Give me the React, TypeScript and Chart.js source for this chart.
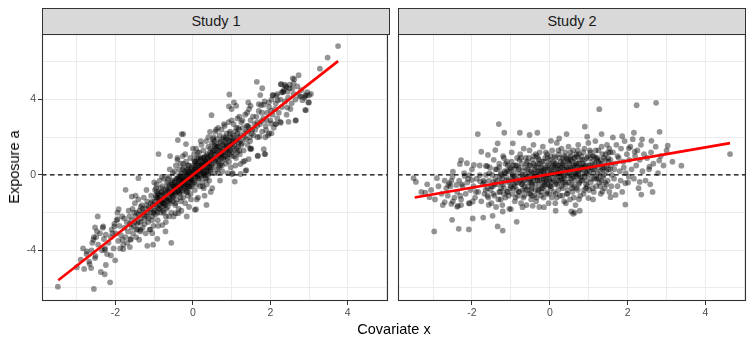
import React, { useEffect, useRef } from "react";
import { Chart, registerables } from "chart.js";
Chart.register(...registerables);

const panelTitles = ["Study 1", "Study 2"];
const xAxisTitle = "Covariate x";
const yAxisTitle = "Exposure a";
const xTicks = [-3, -2, -1, 0, 1, 2, 3, 4, 5];
const xLabeled = [-2, 0, 2, 4];
const yTicks = [-6, -4, -2, 0, 2, 4, 6];
const yLabeled = [-4, 0, 4];
const xRange = [-3.9, 5.04];
const yRange = [-6.69, 7.48];
const refLineY = 0;

// fitted regression line end points (data units)
const study1Fit = [[-3.48, -5.59], [3.75, 6.04]];
const study2Fit = [[-3.47, -1.2], [4.63, 1.69]];

const study1Points: number[][] = [
  // lower-left tail
  [-3.49,-5.93],[-2.56,-6.05],[-2.14,-5.7],[-2.81,-4.99],[-2.63,-4.94],[-2.67,-4.73],[-2.38,-5.15],[-2.28,-5.27],[-2.25,-4.78],[-2.84,-3.9],
  [-2.74,-4.06],[-2.53,-4.41],[-2.28,-3.97],[-2.12,-4.27],[-2.01,-4.53],[-2.57,-3.44],[-2.5,-3.3],[-2.53,-2.79],[-2.46,-2.2],[-2.32,-2.73],
  [-2.25,-3.17],[-2.08,-3.09],[-2.03,-2.73],[-1.95,-2.35],[-1.92,-1.82],[-1.82,-3.44],[-1.8,-3.93],[-1.63,-3.83],[-1.61,-3.44],[-1.39,-3.44],
  [-1.74,-0.79],[-1.58,-1.15],[-1.41,-0.17],[-1.18,-3.76],[-1.03,-3.7],[-0.92,-3.39],[-0.56,-3.6],[-0.71,-3.0],[-1.05,-3.09],[-1.35,-2.91],
  [-0.79,-2.66],[-0.62,-2.2],[-0.45,-2.03],[0.08,-1.82],[0.35,-1.59],[0.05,-1.85],[-0.38,-2.03],[-0.16,-2.2],
  [-2.3,-3.4],[-2.35,-4.0],[-2.4,-3.1],[-2.45,-3.7],[-2.52,-4.3],[-2.6,-3.6],[-2.68,-4.6],[-2.75,-4.2],[-2.9,-4.5],[-3.0,-4.9],
  [-2.33,-2.8],[-2.48,-3.0],[-2.62,-4.0],[-2.27,-3.9],[-2.56,-3.3],
  // upper-right tail
  [3.75,6.84],[3.48,6.23],[3.28,5.64],[2.73,5.29],[2.62,5.08],[2.58,5.13],[1.65,4.94],[0.94,4.27],[1.79,4.6],[1.74,4.24],
  [2.27,4.81],[2.4,4.71],[2.57,4.59],[2.32,4.41],[2.06,4.23],[2.19,3.97],[3.0,4.23],[2.92,4.23],[2.83,3.97],[3.0,3.85],
  [2.92,3.44],[2.44,3.58],[2.66,2.91],[2.47,2.82],[2.27,2.77],[2.15,2.7],[2.02,2.73],[1.89,2.38],[1.97,2.2],[1.72,2.03],
  [1.48,1.41],[1.67,1.0],[1.87,1.11],[1.38,0.26],[1.03,0.09],[1.08,-0.35],[0.48,3.17],[0.44,2.29],[-0.25,2.17],[-0.39,1.85],
  [-0.89,1.11],[-0.59,1.0],[-0.29,2.17],[-0.18,1.64],
  [1.06,3.85],[1.12,3.67],[0.93,3.64],[1.0,3.5],[1.43,3.85],[1.49,3.67],[1.7,3.76],[1.83,3.73],[1.96,3.85],[2.07,4.24],
  [2.18,4.29],[2.29,4.38],[2.45,4.42],[2.35,4.52],[2.28,4.82],[2.37,4.79],[2.5,4.79],[2.6,4.86],[2.41,4.65],[2.78,4.17],
  [2.9,4.2],[2.98,3.85],[2.9,3.44],[2.65,2.88],[2.26,2.82],[2.13,2.7],[2.03,2.21],[1.77,2.85],[1.66,2.61],[1.44,2.53],
  [1.87,2.0],[1.83,1.37],[1.85,1.11],[1.68,1.02],[1.49,1.37],[1.44,0.84],[1.34,0.75],[1.23,0.58],[1.36,0.22],[1.23,0.05],[1.01,0.05],
  [2.22,3.3],[2.26,4.0],[2.3,3.6],[2.34,4.4],[2.38,3.9],[2.42,3.2],[2.46,4.1],[2.5,4.6],[2.55,3.8],[2.6,4.3],
  [2.65,4.0],[2.7,4.7],[2.75,4.2],[2.8,4.5],[2.88,4.1],[2.95,4.4],[3.05,4.3],[2.52,3.5],
  // core
  [-2.18,-3.6],[-2.1,-2.9],[-2.05,-3.9],[-2.0,-3.1],[-1.97,-2.4],[-1.93,-3.5],[-1.9,-2.7],[-1.86,-3.2],[-1.83,-2.2],[-1.8,-3.7],
  [-1.77,-2.8],[-1.74,-3.3],[-1.71,-2.5],[-1.68,-3.0],[-1.66,-1.9],[-1.63,-2.6],[-1.61,-3.4],[-2.22,-4.2],[-2.12,-3.3],[-1.95,-2.0],
  [-1.88,-3.9],[-1.78,-2.3],[-1.7,-3.6],[-1.64,-2.2],[-2.03,-2.6],
  [-1.58,-2.4],[-1.56,-1.8],[-1.55,-3.1],[-1.53,-2.7],[-1.5,-1.5],[-1.49,-2.2],[-1.47,-3.3],[-1.45,-2.0],[-1.43,-2.9],[-1.41,-1.3],
  [-1.4,-2.5],[-1.38,-1.9],[-1.36,-3.0],[-1.34,-2.3],[-1.32,-1.6],[-1.3,-2.8],[-1.29,-2.0],[-1.27,-1.2],[-1.25,-2.6],[-1.23,-1.8],
  [-1.22,-3.1],[-1.2,-2.2],[-1.18,-1.4],[-1.16,-2.5],[-1.14,-1.7],[-1.12,-2.9],[-1.1,-2.0],[-1.08,-1.1],[-1.06,-2.4],[-1.04,-1.6],
  [-1.02,-2.7],[-1.01,-1.9],[-1.52,-2.0],[-1.44,-2.6],[-1.35,-1.7],[-1.26,-2.3],[-1.17,-2.0],[-1.09,-1.5],[-1.05,-2.2],[-1.48,-1.1],
  [-0.99,-1.4],[-0.98,-0.8],[-0.97,-2.1],[-0.95,-1.6],[-0.94,-0.5],[-0.92,-1.2],[-0.91,-2.4],[-0.89,-1.0],[-0.88,-1.8],[-0.86,-0.3],
  [-0.85,-1.4],[-0.83,-2.0],[-0.82,-0.9],[-0.8,-1.5],[-0.79,-0.6],[-0.77,-1.9],[-0.76,-1.1],[-0.74,-0.2],[-0.73,-1.6],[-0.71,-0.8],
  [-0.7,-2.2],[-0.68,-1.3],[-0.67,-0.4],[-0.65,-1.7],[-0.64,-0.9],[-0.62,-1.2],[-0.61,-0.1],[-0.59,-1.5],[-0.58,-0.7],[-0.56,-2.0],
  [-0.55,-1.0],[-0.53,-0.3],[-0.52,-1.4],[-0.51,-0.6],[-0.96,-1.1],[-0.9,-1.3],[-0.84,-0.7],[-0.78,-1.3],[-0.72,-1.0],[-0.66,-1.4],
  [-0.6,-0.9],[-0.54,-1.1],[-0.87,-1.2],[-0.75,-1.5],[-0.63,-0.5],[-0.57,-1.3],[-0.93,-0.9],[-0.81,-1.7],[-0.69,-1.8],[-0.5,-0.8],
  [-0.49,-1.1],[-0.48,-0.4],[-0.47,0.2],[-0.46,-1.6],[-0.45,-0.7],[-0.44,0.5],[-0.43,-0.2],[-0.42,-1.3],[-0.41,-0.5],[-0.4,0.8],
  [-0.39,-0.9],[-0.38,-0.1],[-0.37,-1.8],[-0.36,-0.6],[-0.35,0.3],[-0.34,-1.0],[-0.33,-0.3],[-0.32,0.6],[-0.31,-1.4],[-0.3,-0.5],
  [-0.29,0.1],[-0.28,-0.8],[-0.27,-0.2],[-0.26,1.0],[-0.25,-1.2],[-0.24,-0.4],[-0.23,0.4],[-0.22,-0.7],[-0.21,-0.1],[-0.2,-1.5],
  [-0.19,-0.3],[-0.18,0.7],[-0.17,-0.9],[-0.16,0.0],[-0.15,-0.5],[-0.14,0.3],[-0.13,-1.1],[-0.12,-0.2],[-0.11,0.5],[-0.1,-0.7],
  [-0.09,0.1],[-0.08,-0.4],[-0.07,0.9],[-0.06,-1.0],[-0.05,-0.1],[-0.04,0.4],[-0.03,-0.6],[-0.02,0.2],[-0.01,-0.3],[-0.44,-0.9],
  [-0.36,-0.2],[-0.28,-0.4],[-0.2,0.2],[-0.12,-0.6],[-0.04,-0.2],
  [0.01,0.5],[0.02,-0.3],[0.03,1.1],[0.04,0.1],[0.05,-0.8],[0.06,0.7],[0.07,-0.1],[0.08,1.4],[0.09,0.3],[0.1,-0.5],
  [0.11,0.9],[0.12,0.0],[0.13,-1.2],[0.14,0.6],[0.15,-0.2],[0.16,1.2],[0.17,0.2],[0.18,-0.6],[0.19,0.8],[0.2,0.4],
  [0.21,-0.1],[0.22,1.6],[0.23,0.5],[0.24,-0.4],[0.25,0.9],[0.26,0.1],[0.27,1.3],[0.28,-0.7],[0.29,0.6],[0.3,0.2],
  [0.31,1.0],[0.32,-0.2],[0.33,0.7],[0.34,1.8],[0.35,0.3],[0.36,-0.5],[0.37,1.1],[0.38,0.4],[0.39,0.0],[0.4,1.5],
  [0.41,0.8],[0.42,-0.3],[0.43,0.6],[0.44,1.2],[0.45,0.2],[0.46,-0.9],[0.47,0.9],[0.48,0.5],[0.49,1.7],[0.06,0.3],
  [0.14,0.2],[0.22,0.5],[0.3,0.7],[0.38,0.9],[0.46,0.6],
  [0.51,0.4],[0.52,1.3],[0.53,2.0],[0.54,0.8],[0.55,1.6],[0.56,0.1],[0.57,1.1],[0.58,2.3],[0.59,0.6],[0.6,1.4],
  [0.61,0.9],[0.62,1.9],[0.63,0.3],[0.64,1.2],[0.65,2.5],[0.66,0.7],[0.67,1.5],[0.68,1.0],[0.69,2.1],[0.7,0.5],
  [0.71,1.3],[0.72,1.8],[0.73,0.9],[0.74,2.4],[0.75,1.1],[0.76,0.2],[0.77,1.6],[0.78,1.2],[0.79,2.0],[0.8,0.8],
  [0.81,1.4],[0.82,2.6],[0.83,1.0],[0.84,1.7],[0.85,0.6],[0.86,1.3],[0.87,2.2],[0.88,1.5],[0.89,0.9],[0.9,1.9],
  [0.91,1.2],[0.92,2.8],[0.93,0.7],[0.94,1.6],[0.95,1.1],[0.96,2.3],[0.97,1.4],[0.98,0.4],[0.99,1.8],[0.72,1.0],
  [1.01,1.2],[1.03,2.0],[1.05,2.7],[1.07,1.6],[1.09,2.3],[1.11,0.9],[1.13,1.9],[1.15,3.0],[1.17,1.5],[1.19,2.4],
  [1.21,1.1],[1.23,2.1],[1.25,2.8],[1.27,1.7],[1.29,2.5],[1.31,1.3],[1.33,2.2],[1.35,3.2],[1.37,1.9],[1.39,2.6],
  [1.41,1.6],[1.43,2.3],[1.45,3.5],[1.47,2.0],[1.49,2.9],[1.51,1.4],[1.53,2.4],[1.55,3.1],[1.57,2.1],[1.59,2.7],
  [1.02,1.7],[1.12,2.5],[1.22,1.8],[1.32,2.0],[1.42,2.6],[1.52,2.2],[1.18,2.0],[1.28,2.9],[1.38,2.3],[1.48,1.8],
  [1.61,2.4],[1.64,3.1],[1.67,2.0],[1.7,3.4],[1.73,2.7],[1.76,3.7],[1.79,2.3],[1.82,3.0],[1.85,3.9],[1.88,2.6],
  [1.91,3.3],[1.94,2.1],[1.97,3.6],[2.0,2.9],[2.03,4.0],[2.06,3.2],[2.09,2.5],[2.12,3.5],[2.15,4.2],[2.18,3.0],
  [1.66,2.8],[1.78,3.3],[1.9,2.9],[2.02,3.4],[2.14,3.8],
  // dense centre
  [-0.98,-1.9],[-0.95,-1.2],[-0.92,-1.7],[-0.9,-1.0],[-0.87,-1.6],[-0.85,-1.1],[-0.82,-1.4],[-0.8,-0.9],[-0.77,-1.5],[-0.75,-1.0],
  [-0.72,-1.3],[-0.7,-0.7],[-0.67,-1.2],[-0.65,-0.8],[-0.62,-1.4],[-0.6,-0.6],[-0.57,-1.0],[-0.55,-0.5],[-0.52,-1.2],[-0.5,-0.6],
  [-0.48,-0.9],[-0.46,-0.3],[-0.44,-1.0],[-0.42,-0.6],[-0.4,-0.2],[-0.38,-0.8],[-0.36,-0.4],[-0.34,0.0],[-0.32,-0.7],[-0.3,-0.3],
  [-0.28,-0.9],[-0.26,-0.1],[-0.24,-0.6],[-0.22,0.1],[-0.2,-0.5],[-0.18,-0.2],[-0.16,-0.8],[-0.14,0.0],[-0.12,-0.4],[-0.1,0.2],
  [-0.08,-0.6],[-0.06,-0.2],[-0.04,0.1],[-0.02,-0.5],[0.0,0.0],[-0.47,-0.6],[-0.39,-0.5],[-0.31,-0.1],[-0.23,-0.3],[-0.15,0.2],
  [-0.07,-0.3],[-0.33,-0.6],[-0.19,-0.6],[-0.05,0.3],[-0.27,0.3],
  [0.02,0.2],[0.04,-0.4],[0.06,0.5],[0.08,0.0],[0.1,0.6],[0.12,0.3],[0.14,-0.2],[0.16,0.7],[0.18,0.2],[0.2,0.9],
  [0.22,0.0],[0.24,0.6],[0.26,0.3],[0.28,0.9],[0.3,0.1],[0.32,0.6],[0.34,0.4],[0.36,1.0],[0.38,0.2],[0.4,0.7],
  [0.42,0.4],[0.44,1.0],[0.46,0.3],[0.48,0.8],[0.5,1.2],[0.07,0.4],[0.17,0.5],[0.27,0.0],[0.37,0.6],[0.47,1.1],
  [0.11,-0.1],[0.21,0.3],[0.31,0.8],[0.41,0.1],[0.03,0.8],
  [0.52,0.9],[0.55,1.3],[0.58,0.7],[0.6,1.1],[0.63,1.5],[0.65,0.8],[0.68,1.3],[0.7,1.7],[0.73,1.1],[0.75,1.4],
  [0.78,0.9],[0.8,1.6],[0.83,1.2],[0.85,1.9],[0.88,1.0],[0.9,1.4],[0.93,1.8],[0.95,1.3],[0.98,1.6],[1.0,1.0],
  [1.03,1.5],[1.05,2.1],[1.08,1.3],[1.1,1.8],[1.13,1.4],[1.15,2.2],[1.18,1.7],[1.2,1.3],[0.57,1.5],[0.67,0.4],
  [0.77,1.9],[0.87,1.6],[0.97,2.0],[1.07,1.0],[1.17,2.5],
  [-1.58,-2.8],[-1.5,-2.5],[-1.45,-2.9],[-1.4,-2.1],[-1.35,-2.5],[-1.3,-1.8],[-1.25,-2.1],[-1.2,-1.6],[-1.15,-2.3],[-1.1,-1.8],
  [-1.05,-1.4],[-1.02,-2.0],
  [-1.2,-0.8],[-1.1,-2.9],[-1.0,-0.4],[-0.9,-2.7],[-0.8,-0.1],[-0.7,-2.5],[-0.6,0.3],[-0.5,-2.2],[-0.4,0.9],[-0.3,-1.9],
  [-0.2,1.1],[-0.1,-1.7],[0.0,1.4],[0.1,-1.3],[0.2,1.8],[0.3,-1.1],[0.4,2.0],[0.5,-0.7],[0.6,2.4],[0.7,-0.3],
  [0.8,2.7],[0.9,0.1],[1.0,2.9],[1.1,0.5],[1.2,3.1],[1.3,0.7],[1.4,3.3],[-0.85,-1.8],[-0.65,-0.2],[-0.45,-1.5],
  [-0.25,0.6],[-0.05,-1.3],[0.15,0.9],[0.35,-0.2],[0.55,1.8],[0.75,0.5],[0.95,2.2],[1.15,1.2],[-0.15,-0.9],[0.05,0.7],
  [0.25,-0.6],[0.45,1.4],[0.65,0.1],[0.85,2.0],[-0.35,-0.9],[-0.55,-0.4],[-0.75,-2.0],[-0.95,-0.7],[0.12,1.2],[0.32,0.0],
  [0.52,1.9],[0.72,0.6],[-0.12,0.5],[-0.32,-1.2],[-0.52,0.1],[-0.72,-1.6],[-0.92,-2.0],[1.25,1.6],[1.05,1.8],[0.62,1.6]
];

const study2Points: number[][] = [
  // outer points
  [4.63,1.11],[3.38,0.49],[3.03,1.55],[2.82,2.29],[2.73,3.83],[2.23,3.7],[1.27,3.49],[0.9,2.56],[2.81,0.76],[2.56,0.44],
  [2.64,-0.9],[2.35,-1.04],[1.94,-1.57],[2.31,-0.37],[0.64,-1.99],[0.55,-1.94],[0.15,-1.9],[-0.85,-2.49],[-1.21,-2.95],[-1.34,-2.73],
  [-1.47,-2.17],[-1.71,-2.26],[-1.98,-2.31],[-2.08,-2.89],[-2.34,-2.86],[-2.51,-2.38],[-2.97,-3.0],[-3.2,-0.94],[-3.09,-1.18],[-3.5,-0.17],
  [-3.44,-0.37],[-2.9,-0.17],[-2.7,-1.44],[-2.49,-1.41],[-2.36,-1.64],[-2.28,0.79],[-2.13,0.62],[-1.95,0.53],[-2.49,0.17],[-1.85,2.17],
  [-1.76,1.23],[-1.59,1.06],[-1.64,0.48],[-1.31,2.7],[-1.34,1.68],[-1.4,1.32],[-1.17,2.24],[-0.95,1.68],[-0.77,2.24],[-0.52,2.12],
  [-0.32,2.24],[0.03,1.81],[0.24,1.94],[0.43,2.17],[0.96,2.03],[1.33,2.17],[1.62,1.99],[1.86,2.06],[2.16,2.24],[2.37,1.89],
  [2.61,1.81],[2.03,1.41],[2.18,1.23],[2.03,-0.09],[1.94,-0.44],[1.69,-1.06],[1.56,-1.18],[1.35,-0.88],[0.99,-1.23],[0.75,-1.29],
  [0.41,-1.5],[-0.15,-1.71],[-0.44,-1.64],[-0.7,-1.71],[-1.0,-1.81],[-1.21,-1.94],[-1.57,-1.59],[-1.98,-1.41],[-2.66,-0.71],[-2.58,-0.44],
  [-2.4,-0.53],[-2.19,-0.05],[0.6,-2.06],[0.77,-1.9],[-2.53,-0.31],[-2.61,-0.54],[-2.53,-1.54],[-2.38,-1.69],[-2.28,-1.6],[-2.06,-1.51],
  [-2.0,-0.27],[-2.06,-0.01],[-1.8,-0.01],[-1.79,-0.34],[-2.31,0.58],[-1.61,0.47],
  [-2.45,-1.2],[-2.55,-0.6],[-2.62,-1.1],[-2.7,-0.3],[-2.78,-1.0],[-2.86,-0.6],[-2.95,-1.3],[-3.05,-0.8],[-3.15,-0.5],[-2.5,-0.1],
  [-2.75,-1.6],[-3.3,-0.9],
  [2.55,0.3],[2.6,1.2],[2.66,0.6],[2.72,1.5],[2.78,0.1],[2.85,1.0],[2.92,0.5],[3.0,1.3],[3.15,0.7],[2.58,-0.5],
  // core
  [-2.38,-0.9],[-2.33,-0.3],[-2.28,-1.3],[-2.24,-0.6],[-2.2,0.1],[-2.16,-1.0],[-2.12,-0.4],[-2.08,-1.5],[-2.04,-0.8],[-2.0,0.3],
  [-1.96,-0.6],[-1.92,-1.2],[-1.88,-0.2],[-1.84,-0.9],[-1.8,0.5],[-1.76,-1.4],[-1.72,-0.5],[-1.68,-1.0],[-1.64,0.0],[-1.6,-0.7],
  [-2.3,-1.1],[-2.1,-0.2],[-1.9,-0.9],[-1.7,-0.3],[-2.26,-0.5],
  [-1.58,-1.2],[-1.56,-0.3],[-1.54,0.4],[-1.52,-0.8],[-1.5,-1.5],[-1.48,0.0],[-1.46,-0.6],[-1.44,0.8],[-1.42,-1.1],[-1.4,-0.2],
  [-1.38,-1.7],[-1.36,0.3],[-1.34,-0.5],[-1.32,-1.3],[-1.3,0.6],[-1.28,-0.9],[-1.26,0.1],[-1.24,-0.4],[-1.22,-1.6],[-1.2,1.0],
  [-1.18,-0.7],[-1.16,0.2],[-1.14,-1.2],[-1.12,-0.1],[-1.1,0.7],[-1.08,-0.9],[-1.06,-0.3],[-1.04,-1.8],[-1.02,0.4],[-1.0,-0.6],
  [-0.98,1.2],[-0.96,-1.0],[-0.94,0.0],[-0.92,-0.5],[-0.9,-1.4],[-0.88,0.5],[-0.86,-0.2],[-0.84,0.9],[-0.82,-1.1],[-0.8,-0.4],
  [-1.45,-0.4],[-1.25,-0.7],[-1.05,0.2],[-0.95,-0.3],[-0.85,-0.8],
  [-0.79,0.3],[-0.78,-0.9],[-0.76,1.1],[-0.75,-0.2],[-0.74,-1.5],[-0.72,0.6],[-0.71,-0.5],[-0.7,0.0],[-0.68,-1.2],[-0.67,1.4],
  [-0.66,-0.3],[-0.64,0.4],[-0.63,-0.8],[-0.62,0.9],[-0.6,-1.6],[-0.59,-0.1],[-0.58,0.7],[-0.56,-0.6],[-0.55,0.2],[-0.54,-1.0],
  [-0.52,1.3],[-0.51,-0.4],[-0.5,0.5],[-0.48,-1.3],[-0.47,0.1],[-0.46,-0.7],[-0.44,0.8],[-0.43,-0.2],[-0.42,1.6],[-0.4,-1.1],
  [-0.39,0.3],[-0.38,-0.5],[-0.36,0.0],[-0.35,-1.4],[-0.34,1.0],[-0.32,-0.3],[-0.31,0.6],[-0.3,-0.8],[-0.28,0.2],[-0.27,-1.7],
  [-0.26,1.2],[-0.24,-0.1],[-0.23,0.4],[-0.22,-0.9],[-0.2,0.7],[-0.19,-0.4],[-0.18,1.5],[-0.16,-1.2],[-0.15,0.1],[-0.14,-0.6],
  [-0.12,0.9],[-0.11,-0.2],[-0.1,0.4],[-0.08,-1.0],[-0.07,1.1],[-0.06,-0.5],[-0.04,0.0],[-0.03,-1.5],[-0.02,0.6],[-0.01,-0.3],
  [0.01,0.8],[0.02,-0.6],[0.04,0.2],[0.05,-1.2],[0.06,1.3],[0.08,-0.2],[0.09,0.5],[0.1,-0.9],[0.12,1.0],[0.13,0.0],
  [0.14,-1.5],[0.16,0.6],[0.17,-0.4],[0.18,1.7],[0.2,-0.1],[0.21,0.3],[0.22,-0.8],[0.24,1.1],[0.25,0.1],[0.26,-1.1],
  [0.28,0.7],[0.29,-0.3],[0.3,1.4],[0.32,0.4],[0.33,-0.7],[0.34,0.9],[0.36,-0.1],[0.37,-1.4],[0.38,0.5],[0.4,1.2],
  [0.41,-0.5],[0.42,0.2],[0.44,-1.0],[0.45,0.8],[0.46,0.0],[0.48,1.5],[0.49,-0.4],[0.5,0.6],[0.52,-1.3],[0.53,0.3],
  [0.54,1.0],[0.56,-0.2],[0.57,0.7],[0.58,-0.9],[0.6,1.3],[0.61,0.1],[0.62,-0.6],[0.64,0.9],[0.65,0.4],[0.66,-1.6],
  [0.68,1.1],[0.69,-0.1],[0.7,0.5],[0.72,-0.8],[0.73,1.6],[0.74,0.2],[0.76,-0.4],[0.77,0.8],[0.78,-1.1],[0.79,0.4],
  [0.81,1.0],[0.83,-0.3],[0.85,0.6],[0.87,-1.0],[0.89,1.4],[0.91,0.2],[0.93,-0.5],[0.95,0.9],[0.97,0.0],[0.99,1.7],
  [1.01,-0.8],[1.03,0.5],[1.05,1.2],[1.07,-0.2],[1.09,0.7],[1.11,-1.3],[1.13,1.0],[1.15,0.3],[1.17,1.8],[1.19,-0.6],
  [1.21,0.8],[1.23,0.1],[1.25,1.3],[1.27,-0.4],[1.29,0.6],[1.31,-1.0],[1.33,1.5],[1.35,0.4],[1.37,-0.1],[1.39,0.9],
  [1.41,-0.7],[1.43,1.1],[1.45,0.2],[1.47,1.6],[1.49,-0.3],[1.51,0.7],[1.53,-0.9],[1.55,1.2],[1.57,0.5],[1.59,0.0],
  [0.9,0.4],[1.1,0.3],[1.3,0.8],[1.5,0.3],[1.2,-0.2],
  [1.62,1.2],[1.65,-0.2],[1.68,0.6],[1.71,1.6],[1.74,-0.6],[1.77,0.9],[1.8,0.2],[1.83,1.4],[1.86,-0.9],[1.89,0.7],
  [1.92,1.8],[1.95,0.1],[1.98,1.1],[2.01,-0.4],[2.04,0.8],[2.07,1.5],[2.1,0.3],[2.13,1.9],[2.16,-0.2],[2.19,1.0],
  [2.22,0.5],[2.25,1.3],[2.28,-0.7],[2.31,0.8],[2.34,1.6],[2.38,0.2],[2.42,1.1],[2.46,-0.3],[2.5,0.9],[1.9,0.4],
  // dense centre
  [-1.2,-0.5],[-1.15,0.1],[-1.1,-0.9],[-1.05,-0.4],[-1.0,0.3],[-0.95,-0.7],[-0.9,-0.1],[-0.85,0.5],[-0.8,-0.9],[-0.75,-0.3],
  [-0.7,0.2],[-0.65,-0.6],[-0.6,0.6],[-0.55,-0.2],[-0.5,-1.0],[-1.18,-1.0],[-1.08,0.5],[-0.98,-0.2],[-0.88,-1.2],[-0.78,0.8],
  [-0.68,-0.1],[-0.58,-0.8],[-1.12,-0.3],[-0.92,0.3],[-0.72,-0.5],
  [-0.48,0.2],[-0.45,-0.5],[-0.42,0.6],[-0.4,-0.1],[-0.37,-0.8],[-0.35,0.4],[-0.32,-0.3],[-0.3,0.9],[-0.27,-0.6],[-0.25,0.1],
  [-0.22,-1.1],[-0.2,0.4],[-0.17,-0.2],[-0.15,0.7],[-0.12,-0.5],[-0.1,0.0],[-0.07,-0.9],[-0.05,0.5],[-0.02,-0.2],[0.0,0.3],
  [0.03,-0.7],[0.05,0.1],[0.08,0.7],[0.1,-0.3],[0.13,0.4],[0.15,-1.0],[0.18,0.1],[-0.46,-1.1],[-0.36,1.1],[-0.26,-0.3],
  [-0.16,0.2],[-0.06,0.9],[0.04,-0.4],[0.14,0.9],[-0.41,0.1],[-0.21,-0.7],[-0.01,0.0],[0.19,-0.5],[-0.33,-0.1],[-0.13,0.3],
  [0.2,0.5],[0.23,-0.3],[0.25,0.9],[0.28,0.2],[0.3,-0.6],[0.33,0.6],[0.35,0.0],[0.38,1.0],[0.4,-0.4],[0.43,0.4],
  [0.45,-1.0],[0.48,0.7],[0.5,0.1],[0.53,1.2],[0.55,-0.5],[0.58,0.4],[0.6,-0.1],[0.63,0.9],[0.65,0.2],[0.68,-0.7],
  [0.7,0.6],[0.73,0.0],[0.75,1.1],[0.78,0.3],[0.8,-0.3],[0.83,0.8],[0.85,0.2],[0.88,-0.8],[0.22,0.1],[0.32,-1.1],
  [0.42,0.9],[0.52,-0.2],[0.62,0.5],[0.72,1.3],[0.82,-0.1],[0.27,0.4],[0.47,0.3],[0.67,0.0],[0.87,0.5],[0.37,-0.2],
  [0.9,0.8],[0.95,0.1],[1.0,0.5],[1.05,-0.4],[1.1,1.0],[1.15,0.6],[1.2,-0.1],[1.25,0.7],[1.3,0.2],[1.35,1.1],
  [1.4,0.4],[1.45,-0.5],[1.5,0.9],[1.55,0.3],[0.93,-0.7],[1.03,1.3],[1.13,-0.9],[1.23,0.4],[1.33,-0.3],[1.43,0.8],
  [1.53,1.4],[0.98,0.3],[1.18,0.9],[1.38,0.0],
  [-1.68,-0.4],[-1.6,-1.1],[-1.55,0.1],[-1.5,-0.6],[-1.45,-1.0],[-1.4,0.3],[-1.35,-0.3],[-1.3,-0.9],[-1.25,0.0],[-1.65,-0.8],
  [-1.42,-0.5],[-1.28,-0.1],
  [-1.3,0.4],[-1.22,-0.2],[-1.14,0.6],[-1.06,-1.1],[-0.98,0.7],[-0.9,-0.6],[-0.82,0.1],[-0.74,0.9],[-0.66,-1.1],[-0.58,0.3],
  [-0.5,-0.3],[-0.42,1.0],[-0.34,-1.2],[-0.26,0.6],[-0.18,-0.7],[-0.1,1.2],[-0.02,-1.0],[0.06,0.4],[0.14,-0.5],[0.22,1.3],
  [0.3,-0.2],[0.38,0.3],[0.46,-0.8],[0.54,0.8],[0.62,-1.2],[0.7,1.0],[0.78,-0.1],[0.86,1.2],[0.94,-0.3],[1.02,0.2],
  [1.1,-0.7],[1.18,1.3],[1.26,-0.2],[1.34,0.6],[1.42,-0.4],[1.5,1.2],[1.58,-0.6],[1.66,0.3],[1.74,1.0],[1.82,-0.3],
  [-1.26,-1.3],[-1.18,0.9],[-1.02,-0.7],[-0.94,0.5],[-0.86,-0.4],[-0.62,0.0],[-0.54,0.9],[-0.46,-0.4],[-0.38,0.5],[-0.3,-0.9],
  [-0.22,0.2],[-0.14,-0.4],[-0.06,0.3],[0.02,1.0],[0.1,0.1],[0.18,-1.2],[0.26,0.5],[0.34,-0.4],[0.5,0.9],[0.58,-0.7],
  [0.66,0.6],[0.74,-0.5],[0.82,0.4],[0.9,-0.1],[0.98,1.0],[1.06,0.4],[1.14,-0.2],[1.22,0.9],[1.3,-0.6],[1.46,0.5],
  [-0.7,-0.8],[-0.44,-0.1],[-0.28,0.8],[-0.08,-0.3],[0.12,0.6],[0.32,0.1],[0.52,0.4],[0.72,0.2],[0.92,0.5],[1.12,0.1],
  [-0.96,0.0],[-0.8,0.4],[-0.64,-0.3],[-0.48,-0.8],[-0.32,0.2],[-0.16,-0.1],[0.0,-0.6],[0.16,0.3],[0.36,0.7],[0.56,0.0],
  [0.76,0.6],[0.96,-0.6],[1.16,0.5],[1.36,0.3],[1.56,0.8],[-1.1,0.2],[-0.52,0.5],[0.24,-0.1],[0.64,-0.3],[1.04,0.9]
];

const FONT = "'Liberation Sans', Arial, Helvetica, sans-serif";

const panelBorder = {
  id: "panelBorder",
  afterDraw(chart: any) {
    const { ctx, chartArea } = chart;
    const { left, top, right, bottom } = chartArea;
    ctx.save();
    ctx.strokeStyle = "#333333";
    ctx.lineWidth = 1.1;
    ctx.strokeRect(left + 0.5, top + 0.5, right - left - 1, bottom - top - 1);
    ctx.restore();
  },
};

function makeChart(canvas: HTMLCanvasElement, pts: number[][], fit: number[][], first: boolean) {
  const hidden = "rgba(0,0,0,0)";
  return new Chart(canvas, {
    type: "scatter",
    data: {
      datasets: [
        {
          data: fit.map(([x, y]) => ({ x, y })),
          showLine: true,
          borderColor: "#FF0000",
          borderWidth: 2.6,
          pointRadius: 0,
          fill: false,
          order: 0,
        } as any,
        {
          data: pts.map(([x, y]) => ({ x, y })),
          backgroundColor: "rgba(0,0,0,0.42)",
          borderWidth: 0,
          pointRadius: 2.9,
          order: 1,
        },
        {
          data: xRange.map((x) => ({ x, y: refLineY })),
          showLine: true,
          borderColor: "#000000",
          borderWidth: 1.3,
          borderDash: [4.5, 3.5],
          pointRadius: 0,
          fill: false,
          order: 2,
        } as any,
      ],
    },
    options: {
      responsive: false,
      animation: false,
      events: [],
      layout: { padding: first ? { left: 0, top: 34, right: 2, bottom: 0 } : { left: 4, top: 34, right: 8, bottom: 0 } },
      plugins: { legend: { display: false }, tooltip: { enabled: false } },
      scales: {
        x: {
          type: "linear",
          min: xRange[0],
          max: xRange[1],
          afterBuildTicks: (s: any) => {
            s.ticks = xTicks.map((v) => ({ value: v }));
          },
          afterFit: (s: any) => {
            s.height = 43;
          },
          border: { display: false },
          grid: {
            color: "#EBEBEB",
            lineWidth: 1,
            tickLength: 4,
            tickWidth: 1,
            tickColor: (c: any) => (c.tick && xLabeled.includes(c.tick.value) ? "#333333" : hidden),
          },
          ticks: {
            autoSkip: false,
            maxRotation: 0,
            padding: 2,
            color: "#4D4D4D",
            font: { family: FONT, size: 10.5 },
            callback: (v: any) => (xLabeled.includes(v) ? String(v) : ""),
          },
        },
        y: {
          type: "linear",
          min: yRange[0],
          max: yRange[1],
          afterBuildTicks: (s: any) => {
            s.ticks = yTicks.map((v) => ({ value: v }));
          },
          afterFit: (s: any) => {
            s.width = first ? 42 : 0;
          },
          border: { display: false },
          grid: {
            color: "#EBEBEB",
            lineWidth: 1,
            drawTicks: first,
            tickLength: 4,
            tickWidth: 1,
            tickColor: (c: any) => (c.tick && yLabeled.includes(c.tick.value) ? "#333333" : hidden),
          },
          ticks: {
            display: first,
            autoSkip: false,
            padding: 2,
            color: "#4D4D4D",
            font: { family: FONT, size: 10.5 },
            callback: (v: any) => (yLabeled.includes(v) ? String(v) : ""),
          },
        },
      },
    } as any,
    plugins: [panelBorder],
  });
}

export default function App() {
  const ref1 = useRef<HTMLCanvasElement>(null);
  const ref2 = useRef<HTMLCanvasElement>(null);

  useEffect(() => {
    const c1 = makeChart(ref1.current!, study1Points, study1Fit, true);
    const c2 = makeChart(ref2.current!, study2Points, study2Fit, false);
    return () => {
      c1.destroy();
      c2.destroy();
    };
  }, []);

  const strip: React.CSSProperties = {
    position: "absolute",
    top: 8,
    height: 27,
    boxSizing: "border-box",
    background: "#D9D9D9",
    border: "1px solid #333333",
    color: "#1A1A1A",
    fontFamily: FONT,
    fontSize: 14.5,
    lineHeight: "25px",
    textAlign: "center",
  };

  return (
    <div style={{ position: "fixed", left: 0, top: 0, width: 754, height: 344, background: "#FFFFFF", overflow: "hidden" }}>
      <canvas ref={ref1} width={392} height={344} style={{ position: "absolute", left: 0, top: 0, width: 392, height: 344 }} />
      <canvas ref={ref2} width={360} height={344} style={{ position: "absolute", left: 394, top: 0, width: 360, height: 344 }} />
      <div style={{ ...strip, left: 42, width: 348 }}>{panelTitles[0]}</div>
      <div style={{ ...strip, left: 398, width: 348 }}>{panelTitles[1]}</div>
      <div
        style={{
          position: "absolute",
          left: 14,
          top: 167,
          transform: "translate(-50%, -50%) rotate(-90deg)",
          whiteSpace: "nowrap",
          fontFamily: FONT,
          fontSize: 14.5,
          color: "#000000",
        }}
      >
        {yAxisTitle}
      </div>
      <div
        style={{
          position: "absolute",
          left: 394,
          top: 329,
          transform: "translate(-50%, -50%)",
          whiteSpace: "nowrap",
          fontFamily: FONT,
          fontSize: 14.5,
          color: "#000000",
        }}
      >
        {xAxisTitle}
      </div>
    </div>
  );
}
